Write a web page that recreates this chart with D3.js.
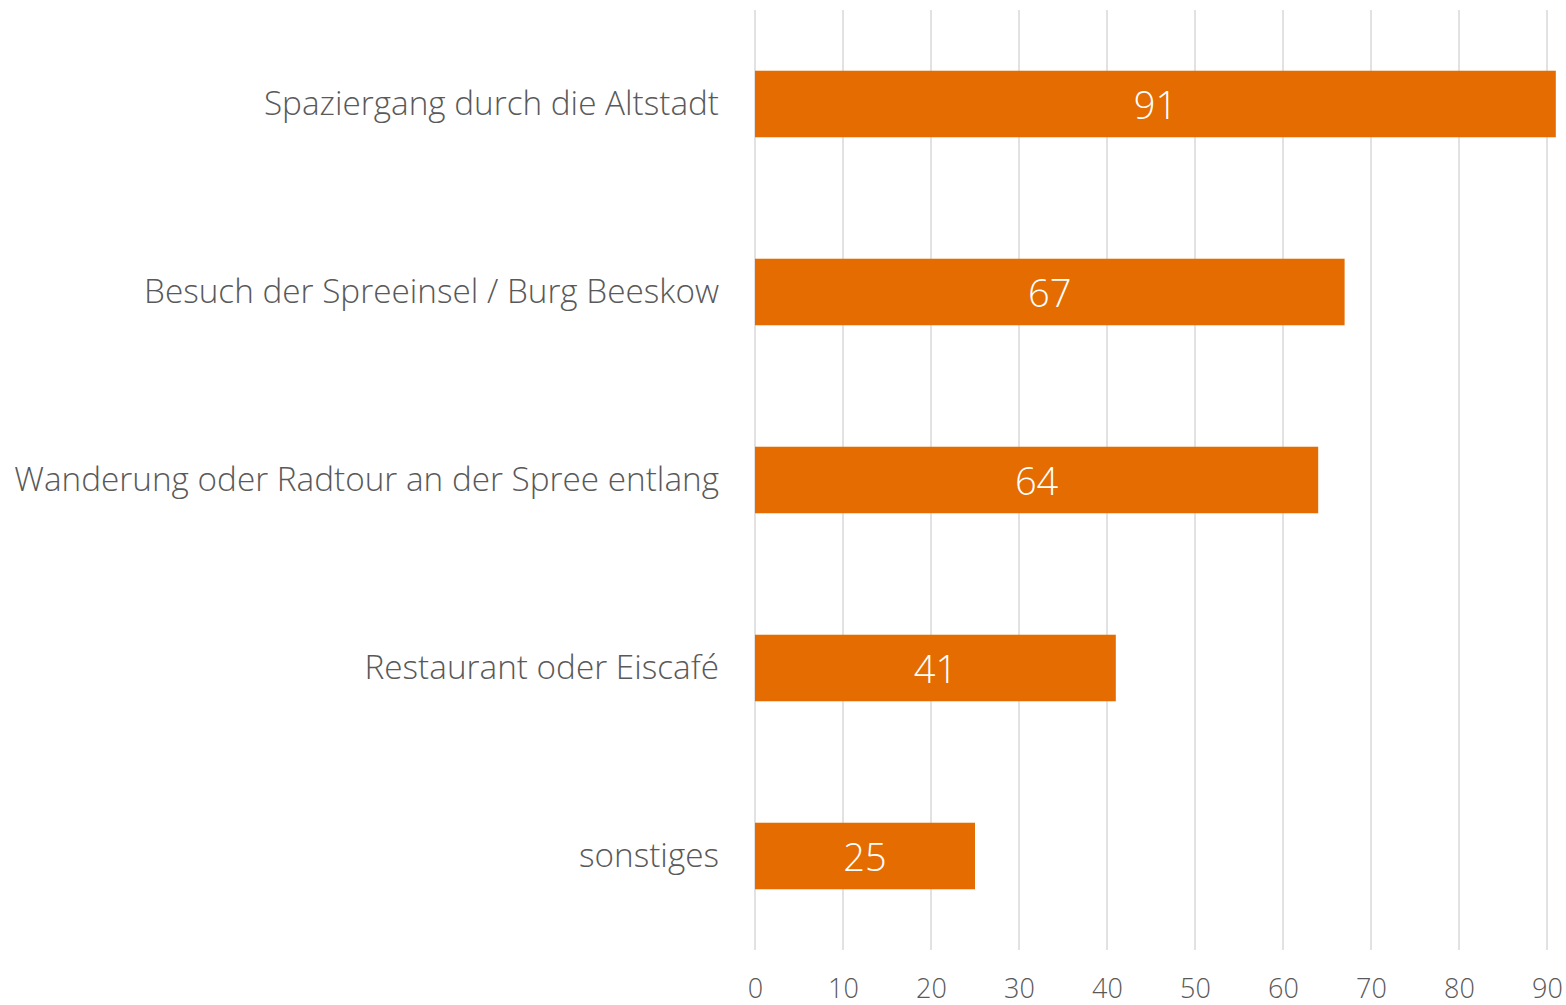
<!DOCTYPE html>
<html>
<head>
<meta charset="utf-8">
<script src="https://cdn.jsdelivr.net/npm/d3@7"></script>
<style>
html,body{margin:0;padding:0;background:#fff;}
svg{display:block;}
text{font-family:"Open Sans",sans-serif;}
</style>
</head>
<body>
<svg id="chart" width="1566" height="1005"></svg>
<script>
const categories = [
  "Spaziergang durch die Altstadt",
  "Besuch der Spreeinsel / Burg Beeskow",
  "Wanderung oder Radtour an der Spree entlang",
  "Restaurant oder Eiscafé",
  "sonstiges"
];
const values = [91, 67, 64, 41, 25];
const tickValues = [0, 10, 20, 30, 40, 50, 60, 70, 80, 90];

const svg = d3.select("#chart");
const x = d3.scaleLinear().domain([0, 90]).range([755, 1547]);
const y = d3.scaleBand().domain(categories).range([10, 950])
  .paddingInner(0.646).paddingOuter(0.323);

// gridlines
svg.append("g").selectAll("line").data(tickValues).join("line")
  .attr("x1", d => x(d)).attr("x2", d => x(d))
  .attr("y1", 10).attr("y2", 950)
  .attr("stroke", "#d9d9d9").attr("stroke-width", 1.5);

// axis tick labels
const xAxis = d3.axisBottom(x).tickValues(tickValues).tickSize(0).tickPadding(0);
const ax = svg.append("g").attr("transform", "translate(0,979)").call(xAxis);
ax.select(".domain").remove();
ax.selectAll("text").attr("fill", "#595959").attr("font-size", 27).attr("font-weight", 300)
  .attr("font-family", "Open Sans, sans-serif").attr("dy", "0.71em").attr("y", 0);

// bars
svg.append("g").selectAll("rect").data(values).join("rect")
  .attr("x", x(0))
  .attr("y", (d, i) => y(categories[i]))
  .attr("width", d => x(d) - x(0))
  .attr("height", y.bandwidth())
  .attr("fill", "#e46c00");

// value labels
svg.append("g").selectAll("text").data(values).join("text")
  .attr("x", d => (x(0) + x(d)) / 2)
  .attr("y", (d, i) => y(categories[i]) + y.bandwidth() / 2)
  .attr("text-anchor", "middle").attr("dominant-baseline", "central")
  .attr("fill", "#fff").attr("font-size", 38).attr("font-weight", 300)
  .text(d => d);

// category labels
const yAxis = d3.axisLeft(y).tickSize(0).tickPadding(0);
const ay = svg.append("g").attr("transform", "translate(719,0)").call(yAxis);
ay.select(".domain").remove();
ay.selectAll("text").attr("fill", "#595959").attr("font-size", 33.3).attr("font-weight", 300)
  .attr("font-family", "Open Sans, sans-serif");
</script>
</body>
</html>
